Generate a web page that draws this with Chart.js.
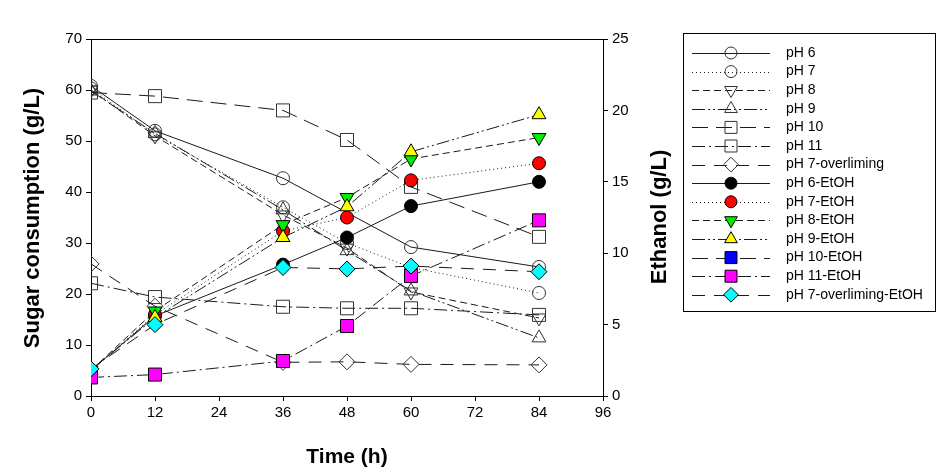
<!DOCTYPE html>
<html><head><meta charset="utf-8">
<script src="https://cdn.jsdelivr.net/npm/chart.js@4/dist/chart.umd.min.js"></script>
<style>html,body{margin:0;padding:0;background:#fff}canvas{display:block}</style>
</head><body>
<canvas id="c" width="945" height="473"></canvas>
<script>
// ---- data ----
const timeH = [0, 12, 36, 48, 60, 84];
const seriesLabels = ["pH 6","pH 7","pH 8","pH 9","pH 10","pH 11","pH 7-overliming",
  "pH 6-EtOH","pH 7-EtOH","pH 8-EtOH","pH 9-EtOH","pH 10-EtOH","pH 11-EtOH","pH 7-overliming-EtOH"];
// sugar consumption (g/L), left axis
const sugarPH6  = [60.8, 52.0, 42.7, null, 29.2, 25.3];
const sugarPH7  = [60.3, 51.3, 37.0, 30.0, 25.2, 20.2];
const sugarPH8  = [60.0, 51.0, 35.5, 29.0, 20.4, 15.3];
const sugarPH9  = [59.8, 51.5, 36.5, 28.5, 20.6, 11.4];
const sugarPH10 = [59.5, 58.8, 56.0, 50.2, 41.0, 31.2];
const sugarPH11 = [22.1, 19.4, 17.5, 17.2, 17.2, 15.9];
const sugarPH7over = [25.9, 17.6, 6.6, 6.7, 6.2, 6.1];
// ethanol (g/L), right axis
const etohPH6  = [1.8, 5.6, 9.2, 11.1, 13.3, 15.0];
const etohPH7  = [1.8, 5.7, 11.55, 12.5, 15.1, 16.3];
const etohPH8  = [1.8, 5.95, 12.0, 13.9, 16.6, 18.1];
const etohPH9  = [1.8, 5.5, 11.1, 13.25, 17.1, 19.7];
const etohPH10 = [];
const etohPH11 = [1.3, 1.5, 2.45, 4.9, 8.4, 12.3];
const etohPH7over = [1.9, 5.0, 9.0, 8.9, 9.1, 8.7];
// axis ticks
const xTicks = [0, 12, 24, 36, 48, 60, 72, 84, 96];
const sugarTicks = [0, 10, 20, 30, 40, 50, 60, 70];
const ethanolTicks = [0, 5, 10, 15, 20, 25];

// ---- styles ----
const seriesValues = [sugarPH6, sugarPH7, sugarPH8, sugarPH9, sugarPH10, sugarPH11, sugarPH7over,
  etohPH6, etohPH7, etohPH8, etohPH9, etohPH10, etohPH11, etohPH7over];
const dashes = [[], [1,3], [7,4], [13,3,2,3,2,3], [16,8], [13,4,2,4], [13,9]];
const shapes = [['circle',0,6.5],['circle',0,6.5],['triangle',180,8],['triangle',0,8],['rect',0,9.2],['rect',0,9.2],['rectRot',0,8]];
const fills = ['#000000','#ff0000','#00ee00','#ffff00','#0000ff','#ff00ff','#00ffff'];

const datasets = seriesValues.map((vals, i) => {
  const k = i % 7, isEt = i >= 7;
  const pts = [];
  vals.forEach((v, j) => { if (v !== null && v !== undefined) pts.push({x: timeH[j], y: v}); });
  return {
    label: seriesLabels[i],
    data: pts,
    yAxisID: isEt ? 'y2' : 'y',
    borderColor: '#1a1a1a',
    borderWidth: 1,
    borderDash: dashes[k],
    showLine: true,
    fill: false,
    tension: 0,
    pointStyle: shapes[k][0],
    rotation: shapes[k][1],
    pointRadius: shapes[k][2],
    pointHoverRadius: shapes[k][2],
    pointBackgroundColor: isEt ? fills[k] : 'rgba(0,0,0,0)',
    pointBorderColor: isEt ? '#000' : '#333',
    pointBorderWidth: 1,
    order: -i
  };
});

const FONT = 'Arial, "Liberation Sans", sans-serif';

const extras = {
  id: 'extras',
  afterDraw(chart) {
    const ctx = chart.ctx, a = chart.chartArea;
    ctx.save();
    // top border
    ctx.strokeStyle = '#000'; ctx.lineWidth = 1;
    ctx.beginPath(); ctx.moveTo(a.left, a.top + 0.5); ctx.lineTo(a.right, a.top + 0.5); ctx.stroke();
    // axis titles
    ctx.fillStyle = '#000';
    ctx.textAlign = 'center'; ctx.textBaseline = 'middle';
    ctx.font = 'bold 21px ' + FONT;
    ctx.fillText('Time (h)', (a.left + a.right) / 2, 457);
    ctx.font = 'bold 22px ' + FONT;
    ctx.save(); ctx.translate(33, 218); ctx.rotate(-Math.PI / 2);
    ctx.fillText('Sugar consumption (g/L)', 0, 0); ctx.restore();
    ctx.save(); ctx.translate(660, 217); ctx.rotate(-Math.PI / 2);
    ctx.fillText('Ethanol (g/L)', 0, 0); ctx.restore();
    // legend
    const lx = 683.5, ly = 33.5, lw = 252, lh = 278;
    ctx.strokeStyle = '#000'; ctx.lineWidth = 1;
    ctx.strokeRect(lx, ly, lw, lh);
    ctx.font = '14px ' + FONT;
    ctx.textAlign = 'left'; ctx.textBaseline = 'middle';
    chart.data.datasets.forEach((ds, i) => {
      const y = 53 + i * 18.6;
      ctx.save();
      ctx.strokeStyle = '#1a1a1a'; ctx.lineWidth = 1;
      ctx.setLineDash(ds.borderDash || []);
      ctx.beginPath(); ctx.moveTo(692, Math.round(y) + 0.5); ctx.lineTo(770, Math.round(y) + 0.5); ctx.stroke();
      ctx.restore();
      ctx.save();
      ctx.fillStyle = ds.pointBackgroundColor; ctx.strokeStyle = ds.pointBorderColor; ctx.lineWidth = 1;
      Chart.helpers.drawPoint(ctx, {pointStyle: ds.pointStyle, rotation: ds.rotation, radius: ds.pointRadius * 0.92, borderWidth: 1}, 731, y);
      ctx.restore();
      ctx.fillStyle = '#000';
      ctx.fillText(ds.label, 786, y);
    });
    ctx.restore();
  }
};

const tickFont = {family: FONT, size: 15};
new Chart(document.getElementById('c'), {
  type: 'scatter',
  data: { datasets },
  options: {
    responsive: false, animation: false,
    layout: { padding: { top: 39, left: 0, right: 282, bottom: 0 } },
    plugins: { legend: { display: false }, tooltip: { enabled: false } },
    scales: {
      x: {
        type: 'linear', min: 0, max: 96,
        afterBuildTicks: s => { s.ticks = xTicks.map(v => ({value: v})); },
        afterFit: s => { s.height = 77; },
        ticks: { font: tickFont, color: '#000', padding: 3 },
        grid: { drawOnChartArea: false, color: '#000', tickLength: 5 },
        border: { color: '#000', width: 1 }
      },
      y: {
        position: 'left', min: 0, max: 70,
        afterBuildTicks: s => { s.ticks = sugarTicks.map(v => ({value: v})); },
        afterFit: s => { s.width = 91; },
        ticks: { font: tickFont, color: '#000', padding: 4 },
        grid: { drawOnChartArea: false, color: '#000', tickLength: 5 },
        border: { color: '#000', width: 1 }
      },
      y2: {
        position: 'right', min: 0, max: 25,
        afterBuildTicks: s => { s.ticks = ethanolTicks.map(v => ({value: v})); },
        afterFit: s => { s.width = 60; },
        ticks: { font: tickFont, color: '#000', padding: 4 },
        grid: { drawOnChartArea: false, color: '#000', tickLength: 5 },
        border: { color: '#000', width: 1 }
      }
    }
  },
  plugins: [extras]
});
</script>
</body></html>
